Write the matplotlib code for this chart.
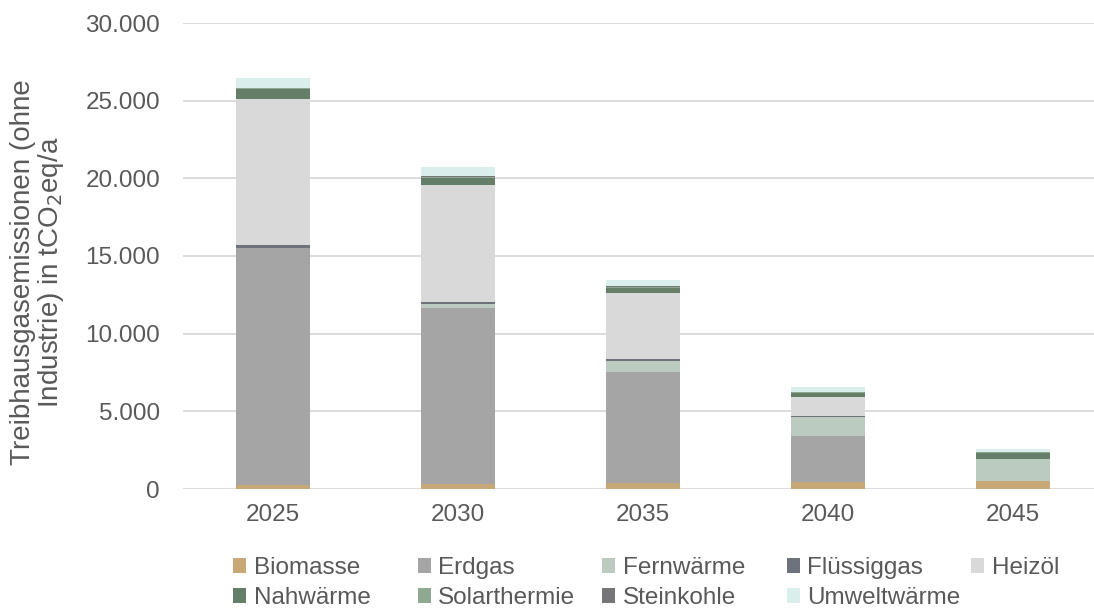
import matplotlib
matplotlib.use("Agg")
import matplotlib.pyplot as plt
from matplotlib.patches import Patch
from matplotlib.ticker import FuncFormatter

YEARS = ["2025", "2030", "2035", "2040", "2045"]

# Emissions per energy carrier, tCO2eq/a
BIOMASSE = [270, 300, 400, 480, 500]
ERDGAS = [15240, 11370, 7120, 2960, 0]
FERNWAERME = [0, 210, 750, 1180, 1460]
FLUESSIGGAS = [170, 150, 110, 60, 0]
HEIZOEL = [9450, 7560, 4250, 1220, 0]
NAHWAERME = [640, 450, 300, 280, 340]
SOLARTHERMIE = [40, 60, 80, 60, 110]
STEINKOHLE = [25, 40, 50, 25, 0]
UMWELTWAERME = [640, 580, 370, 280, 170]

SERIES = [
    ("Biomasse", BIOMASSE, "#c9a877"),
    ("Erdgas", ERDGAS, "#a5a5a5"),
    ("Fernwärme", FERNWAERME, "#bccbbf"),
    ("Flüssiggas", FLUESSIGGAS, "#6e737b"),
    ("Heizöl", HEIZOEL, "#d9d9d9"),
    ("Nahwärme", NAHWAERME, "#647e68"),
    ("Solarthermie", SOLARTHERMIE, "#8fa892"),
    ("Steinkohle", STEINKOHLE, "#767679"),
    ("Umweltwärme", UMWELTWAERME, "#daefec"),
]

TEXT = "#595959"
FS = 17.5
plt.rcParams["font.family"] = ["Liberation Sans", "DejaVu Sans"]
plt.rcParams["font.size"] = FS

fig = plt.figure(figsize=(10.94, 6.08), dpi=100)
ax = fig.add_axes([183 / 1094, 1 - 489 / 608, (1094 - 183) / 1094, (489 - 23) / 608])

x = list(range(len(YEARS)))
bottom = [0] * len(YEARS)
for name, vals, color in SERIES:
    ax.bar(x, vals, bottom=bottom, width=0.4, color=color, label=name, zorder=3)
    bottom = [b + v for b, v in zip(bottom, vals)]

ax.set_ylim(0, 30000)
ax.set_xlim(-0.486, 4.438)
ax.set_yticks(range(0, 30001, 5000))
ax.yaxis.set_major_formatter(FuncFormatter(lambda v, _: f"{int(v):,}".replace(",", ".")))
ax.set_xticks(x)
ax.set_xticklabels(YEARS)
ax.grid(axis="y", color="#d9d9d9", linewidth=1.3, zorder=0)
for s in ax.spines.values():
    s.set_visible(False)
ax.tick_params(length=0, colors=TEXT, labelsize=FS)
ax.tick_params(axis="y", pad=16.5)
ax.tick_params(axis="x", pad=11)

ax.set_ylabel("Treibhausgasemissionen (ohne\nIndustrie) in tCO$_2$eq/a",
              color=TEXT, fontsize=20, linespacing=1.0)
ax.yaxis.set_label_coords(-0.128, 0.466)

# legend laid out row by row in five evenly spaced columns
handles = [Patch(facecolor=c, edgecolor="none", label=n) for n, _, c in SERIES]
cols = [[0, 5], [1, 6], [2, 7], [3, 8], [4]]
for i, idx in enumerate(cols):
    fig.legend(
        handles=[handles[j] for j in idx],
        loc="upper left",
        bbox_to_anchor=((233 + 184.5 * i) / 1094, 1 - 557 / 608),
        frameon=False,
        fontsize=FS,
        labelcolor=TEXT,
        handlelength=0.55,
        handleheight=0.55,
        handletextpad=0.3,
        labelspacing=0.33,
        borderpad=0,
        borderaxespad=0,
    )

fig.savefig("out.png", dpi=100)
